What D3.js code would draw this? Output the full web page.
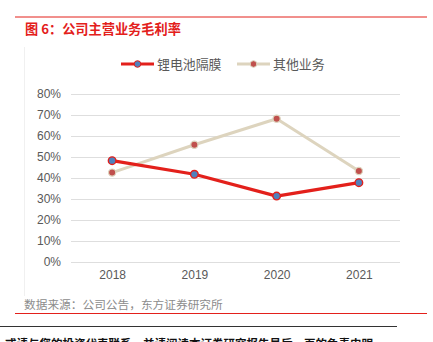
<!DOCTYPE html>
<html>
<head>
<meta charset="utf-8">
<script src="https://cdn.jsdelivr.net/npm/d3@7"></script>
<style>
  html, body { margin: 0; padding: 0; background: #fff; }
  svg { display: block; font-family: "Noto Sans CJK SC", "Liberation Sans", sans-serif; }
</style>
</head>
<body>
<svg id="chart" width="433" height="342"></svg>
<script>
// Gross margin by business line, 2018-2021
const years = ["2018", "2019", "2020", "2021"];
const separatorMargin = [48.2, 41.7, 31.3, 37.7]; // 锂电池隔膜
const otherMargin = [42.5, 55.8, 68.2, 43.3];     // 其他业务
const yTicks = [0, 10, 20, 30, 40, 50, 60, 70, 80];
const seriesNames = ["锂电池隔膜", "其他业务"];

const svg = d3.select("#chart");
const red = "#e3201b";
const beige = "#ddd4be";

// header rule and title
svg.append("line").attr("x1", 15).attr("x2", 427).attr("y1", 17).attr("y2", 17)
  .attr("stroke", "#e3201b").attr("stroke-width", 1);
svg.append("text").attr("x", 25).attr("y", 34)
  .attr("fill", "#e3201b").attr("font-size", 13.2).attr("font-weight", "bold")
  .text("图 6：公司主营业务毛利率");

// faint frame edge
svg.append("line").attr("x1", 24.5).attr("x2", 24.5).attr("y1", 47).attr("y2", 296)
  .attr("stroke", "#f0f0f0").attr("stroke-width", 1);

const x = d3.scalePoint().domain(years).range([71, 400]).padding(0.5);
const y = d3.scaleLinear().domain([0, 80]).range([261.7, 94]);

// gridlines
svg.append("g").selectAll("line").data(yTicks).join("line")
  .attr("x1", 71).attr("x2", 400)
  .attr("y1", d => Math.round(y(d)) + 0.5).attr("y2", d => Math.round(y(d)) + 0.5)
  .attr("stroke", "#dedede").attr("stroke-width", 1);

// y axis labels
const yAxis = d3.axisLeft(y).tickValues(yTicks).tickFormat(d => d + "%").tickSize(0).tickPadding(0);
const gy = svg.append("g").attr("transform", "translate(61,0)").call(yAxis);
gy.select(".domain").remove();
gy.selectAll("text").attr("fill", "#595959").attr("font-size", 12)
  .attr("font-family", "Liberation Sans, sans-serif");

// x axis labels
const xAxis = d3.axisBottom(x).tickSize(0).tickPadding(0);
const gx = svg.append("g").attr("transform", "translate(0,270)").call(xAxis);
gx.select(".domain").remove();
gx.selectAll("text").attr("fill", "#595959").attr("font-size", 12)
  .attr("font-family", "Liberation Sans, sans-serif");

const line = d3.line().x((d, i) => x(years[i])).y(d => y(d));

// 其他业务 series
svg.append("path").datum(otherMargin).attr("d", line)
  .attr("fill", "none").attr("stroke", beige).attr("stroke-width", 3).attr("stroke-linejoin", "round");
svg.append("g").selectAll("circle").data(otherMargin).join("circle")
  .attr("cx", (d, i) => x(years[i])).attr("cy", d => y(d)).attr("r", 3.6)
  .attr("fill", "#c0504d").attr("stroke", beige).attr("stroke-width", 1.2);

// 锂电池隔膜 series
svg.append("path").datum(separatorMargin).attr("d", line)
  .attr("fill", "none").attr("stroke", red).attr("stroke-width", 3.2).attr("stroke-linejoin", "round");
svg.append("g").selectAll("circle").data(separatorMargin).join("circle")
  .attr("cx", (d, i) => x(years[i])).attr("cy", d => y(d)).attr("r", 3.8)
  .attr("fill", "#4f81bd").attr("stroke", red).attr("stroke-width", 1.4);

// legend
const legend = [
  { name: seriesNames[0], x0: 121, stroke: red, fill: "#4f81bd", ring: red },
  { name: seriesNames[1], x0: 237, stroke: beige, fill: "#c0504d", ring: beige }
];
const lg = svg.append("g").selectAll("g").data(legend).join("g");
lg.append("line").attr("x1", d => d.x0).attr("x2", d => d.x0 + 33)
  .attr("y1", 64).attr("y2", 64).attr("stroke", d => d.stroke).attr("stroke-width", 3.2);
lg.append("circle").attr("cx", d => d.x0 + 16.5).attr("cy", 64).attr("r", 3.3)
  .attr("fill", d => d.fill).attr("stroke", d => d.ring).attr("stroke-width", 1);
lg.append("text").attr("x", d => d.x0 + 36).attr("y", 68.5)
  .attr("fill", "#595959").attr("font-size", 12.9).text(d => d.name);

// source note and footer rules
svg.append("text").attr("x", 24).attr("y", 309)
  .attr("fill", "#8c8c8c").attr("font-size", 11.7)
  .text("数据来源：公司公告，东方证券研究所");
svg.append("line").attr("x1", 15).attr("x2", 427).attr("y1", 313.5).attr("y2", 313.5)
  .attr("stroke", "#e3201b").attr("stroke-width", 1);
svg.append("line").attr("x1", 0).attr("x2", 397).attr("y1", 326.5).attr("y2", 326.5)
  .attr("stroke", "#333").attr("stroke-width", 1);
svg.append("text").attr("x", 5).attr("y", 348)
  .attr("fill", "#111").attr("font-size", 11.5).attr("font-weight", "bold")
  .text("或请与您的投资代表联系，并请阅读本证券研究报告最后一页的免责申明。");
</script>
</body>
</html>
